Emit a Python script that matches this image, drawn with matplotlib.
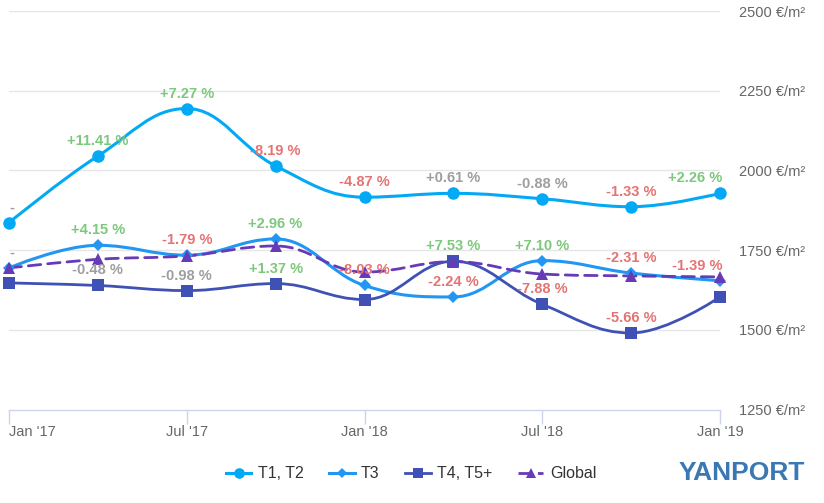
import matplotlib
matplotlib.use("Agg")
import matplotlib.pyplot as plt
from matplotlib.path import Path
from matplotlib.patches import PathPatch
from matplotlib.lines import Line2D

# quarterly points, months since Jan '17
months = [0, 3, 6, 9, 12, 15, 18, 21, 24]
tick_months = [0, 6, 12, 18, 24]
tick_labels = ["Jan '17", "Jul '17", "Jan '18", "Jul '18", "Jan '19"]
y_ticks = [1250, 1500, 1750, 2000, 2250, 2500]

t1_t2 = [1836, 2045, 2194, 2014, 1916, 1928, 1911, 1886, 1928]
t3 = [1694, 1765, 1734, 1785, 1639, 1603, 1717, 1678, 1654]
t4_t5 = [1647, 1639, 1623, 1645, 1595, 1715, 1580, 1490, 1603]
global_ = [1694, 1721, 1732, 1763, 1681, 1714, 1675, 1669, 1666]

# data labels as shown (None = hidden in the original)
t1_t2_lbl = ["-", "+11.41 %", "+7.27 %", "-8.19 %", "-4.87 %", "+0.61 %", "-0.88 %", "-1.33 %", "+2.26 %"]
t3_lbl = ["-", "+4.15 %", "-1.79 %", "+2.96 %", "-8.03 %", "-2.24 %", "+7.10 %", "-2.31 %", "-1.39 %"]
t4_t5_lbl = [None, "-0.48 %", "-0.98 %", "+1.37 %", None, "+7.53 %", "-7.88 %", "-5.66 %", None]
global_lbl = [None] * 9

GREEN, RED, GREY = "#7cc87c", "#e57373", "#9e9e9e"
plt.rcParams["font.family"] = ["Liberation Sans", "DejaVu Sans"]


def spline_path(xs, ys, smoothing=1.5):
    # Highcharts-style spline through the points
    n = len(xs)
    lc = [(x, y) for x, y in zip(xs, ys)]
    rc = [(x, y) for x, y in zip(xs, ys)]
    denom = smoothing + 1
    for i in range(1, n - 1):
        px, py = xs[i], ys[i]
        lx = (smoothing * px + xs[i - 1]) / denom
        ly = (smoothing * py + ys[i - 1]) / denom
        rx = (smoothing * px + xs[i + 1]) / denom
        ry = (smoothing * py + ys[i + 1]) / denom
        if rx != lx:
            corr = (ry - ly) * (px - lx) / (rx - lx) + ly - py
            ly -= corr
            ry -= corr
        if ly > ys[i - 1] and ly > py:
            ly = max(ys[i - 1], py); ry = 2 * py - ly
        elif ly < ys[i - 1] and ly < py:
            ly = min(ys[i - 1], py); ry = 2 * py - ly
        if ry > ys[i + 1] and ry > py:
            ry = max(ys[i + 1], py); ly = 2 * py - ry
        elif ry < ys[i + 1] and ry < py:
            ry = min(ys[i + 1], py); ly = 2 * py - ry
        lc[i] = (lx, ly)
        rc[i] = (rx, ry)
    verts = [(xs[0], ys[0])]
    codes = [Path.MOVETO]
    for i in range(1, n):
        verts += [rc[i - 1], lc[i], (xs[i], ys[i])]
        codes += [Path.CURVE4] * 3
    return Path(verts, codes)


fig = plt.figure(figsize=(8.24, 5.03), dpi=100)
ax = fig.add_axes([9 / 824, 1 - 409.5 / 503, (720 - 9) / 824, 398.5 / 503])
ax.set_xlim(0, 24)
ax.set_ylim(1250, 2500)

series = [
    (t1_t2, t1_t2_lbl, "T1, T2", "#03a9f4", "o", 9, "-", 2.2),
    (t3, t3_lbl, "T3", "#2196f3", "D", 6.5, "-", 2.2),
    (t4_t5, t4_t5_lbl, "T4, T5+", "#3f51b5", "s", 8.5, "-", 2.0),
    (global_, global_lbl, "Global", "#673ab7", "^", 9, (0, (4.5, 2.5)), 2.0),
]

handles = []
for k, (vals, lbls, name, col, mk, ms, ls, lw) in enumerate(series):
    patch = PathPatch(spline_path(months, vals), fill=False, edgecolor=col,
                      linewidth=lw, linestyle=ls, zorder=3 + k * 0.1, clip_on=False,
                      capstyle="round")
    ax.add_patch(patch)
    ax.plot(months, vals, linestyle="none", marker=mk, markersize=ms, color=col,
            markeredgewidth=0, zorder=4 + k * 0.1, clip_on=False)
    handles.append(Line2D([], [], color=col, linestyle=ls, linewidth=lw, marker=mk,
                          markersize=ms * 0.85, markeredgewidth=0))
    for i, (m, v, t) in enumerate(zip(months, vals, lbls)):
        if t is None:
            continue
        if t == "-":
            c = GREY
        else:
            num = float(t.replace(" %", ""))
            c = GREY if abs(num) < 1 else (GREEN if num > 0 else RED)
        ha = "center"
        dx = 0
        if i == 0:
            ha, dx = "left", 0
        elif i == len(months) - 1:
            ha, dx = "right", 2
        ax.annotate(t, (m, v), xytext=(dx, 15), textcoords="offset pixels",
                    ha=ha, va="center", fontsize=10.5, fontweight="bold",
                    color=c, zorder=6, annotation_clip=False)

# grid and axes styling
for yv in y_ticks[1:]:
    ax.axhline(yv, color="#e6e6e6", linewidth=1, zorder=1)
for s in ["top", "left", "right"]:
    ax.spines[s].set_visible(False)
ax.spines["bottom"].set_color("#ccd6eb")
ax.spines["bottom"].set_linewidth(1)

ax.set_xticks(tick_months)
ax.set_xticklabels(tick_labels)
ax.tick_params(axis="x", direction="out", length=10, width=1, color="#ccd6eb",
               labelsize=10.5, labelcolor="#666666", pad=1)
ax.get_xticklabels()[0].set_horizontalalignment("left")

ax.yaxis.tick_right()
ax.set_yticks(y_ticks)
ax.set_yticklabels([f"{v} €/m²" for v in y_ticks])
ax.tick_params(axis="y", length=0, labelsize=10.5, labelcolor="#666666", pad=14)

fig.legend(handles=handles, labels=[s[2] for s in series], loc="center",
           bbox_to_anchor=(411 / 824, 1 - 474 / 503), ncol=4, frameon=False,
           fontsize=11.5, handlelength=1.6, handletextpad=0.4, columnspacing=1.6,
           labelcolor="#333333")

fig.text(742 / 824, 1 - 473 / 503, "YANPORT", ha="center", va="center",
         fontsize=19, fontweight="bold", color="#3a78b4",
         family=["Liberation Sans Narrow", "Liberation Sans"])

fig.savefig("out.png", dpi=100)
